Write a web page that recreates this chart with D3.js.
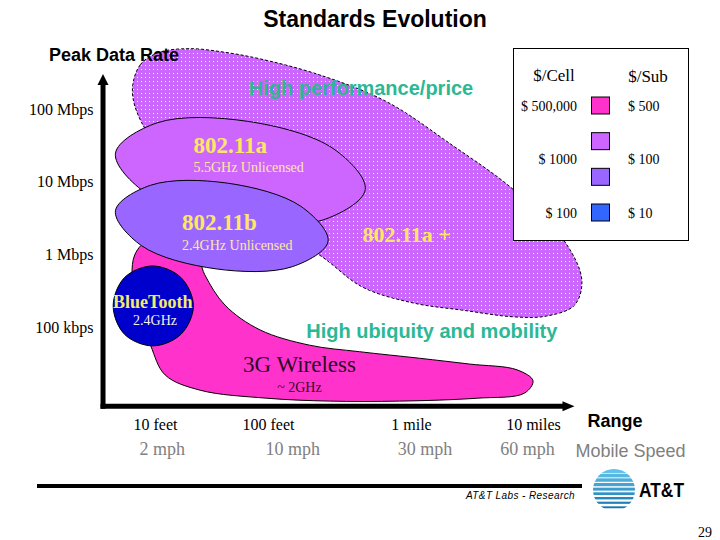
<!DOCTYPE html>
<meta charset="utf-8">
<body style="margin:0;background:#fff">
  <svg id="chart" width="720" height="540"></svg>

  <script src="https://cdnjs.cloudflare.com/ajax/libs/d3/7.8.5/d3.min.js"></script>
  <script>

    // axis ticks: y in log10(Mbps), x in range decades (10 feet .. 10 miles)
    var rateTicks = [-1, 0, 1, 2]
    var rateLabels = ['100 kbps', '1 Mbps', '10 Mbps', '100 Mbps']
    var rangeTicks = [0, 1, 2, 3]
    var rangeLabels = ['10 feet', '100 feet', '1 mile', '10 miles']
    var speedTicks = [0.06, 1.17, 2.11, 2.95]
    var speedLabels = ['2 mph', '10 mph', '30 mph', '60 mph']

    // legend: cost tiers
    var tierColors = ['#FF33CC', '#CC66FF', '#9966FF', '#3366FF']
    var costRows = [0, 1.5, 3]
    var costPerCell = ['$ 500,000', '$ 1000', '$ 100']
    var costPerSub = ['$ 500', '$ 100', '$ 10']

    // technology regions, outline points as [range, log10 rate]
    var wlanPlus = [[-0.20, 2.26], [-0.13, 2.61], [0.04, 2.78], [0.31, 2.83], [0.62, 2.78], [0.93, 2.69],
      [1.36, 2.47], [1.83, 2.10], [2.34, 1.50], [2.84, 0.89], [3.25, 0.20], [3.40, -0.35], [3.34, -0.70],
      [3.11, -0.85], [2.84, -0.86], [2.43, -0.77], [2.02, -0.67], [1.66, -0.45], [1.36, -0.01],
      [0.84, 0.54], [0.13, 1.30], [-0.13, 1.85]]
    var wireless3g = [[-0.04, 0.20], [0.35, 0.06], [0.44, -0.28], [0.62, -0.70], [0.93, -1.04], [1.29, -1.25],
      [1.64, -1.34], [2.07, -1.43], [2.48, -1.51], [2.87, -1.59], [3.00, -1.74], [2.93, -1.91], [2.54, -1.98],
      [1.92, -2.02], [1.43, -2.02], [0.99, -1.98], [0.40, -1.87], [0.09, -1.66], [-0.04, -1.25],
      [-0.18, -0.63], [-0.18, -0.01]]
    var wlan11a = [[1.68, 0.89], [1.38, 0.47], [0.69, 0.45], [-0.07, 0.83], [-0.35, 1.39], [0.02, 1.81], [0.82, 1.83], [1.46, 1.45]]
    var wlan11b = [[1.42, 0.18], [1.17, -0.17], [0.54, -0.20], [-0.12, 0.12], [-0.35, 0.60], [-0.04, 0.95], [0.64, 0.98], [1.23, 0.66]]
    var bluetooth = [[0.34, -0.71], [0.23, -1.10], [-0.02, -1.26], [-0.27, -1.10], [-0.37, -0.71], [-0.27, -0.32], [-0.02, -0.16], [0.23, -0.32]]

    var serif = '"Liberation Serif", "Times New Roman", serif'
    var sans = '"Liberation Sans", Arial, sans-serif'

    var svg = d3.select('#chart')

    var x = d3.scaleLinear().domain([0, 1, 2, 3]).range([155, 268, 411, 533])
    var y = d3.scaleLinear().domain([-1, 2]).range([327, 109])
    var legendY = d3.scaleLinear().domain([0, 3]).range([105.5, 212.5])

    var outline = d3.line()
      .x(d => x(d[0]))
      .y(d => y(d[1]))
      .curve(d3.curveCatmullRomClosed.alpha(0.5))

    // dotted fill
    var defs = svg.append('defs')
    var pat = defs.append('pattern').attr('id', 'dots')
      .attr('width', 4).attr('height', 4).attr('patternUnits', 'userSpaceOnUse')
    pat.append('rect').attr('width', 4).attr('height', 4).attr('fill', '#CC66FF')
    pat.append('rect').attr('x', 1).attr('y', 1).attr('width', 1).attr('height', 1).attr('fill', '#fff')

    // title
    svg.append('text').text('Standards Evolution')
      .attr('x', 375).attr('y', 27).attr('text-anchor', 'middle')
      .style('font-family', sans).style('font-weight', 'bold').style('font-size', '23px')

    // regions, back to front
    svg.append('path').attr('d', outline(wlanPlus))
      .attr('fill', 'url(#dots)').attr('stroke', '#000').attr('stroke-width', 1)
      .attr('stroke-dasharray', '3,2')

    svg.append('path').attr('d', outline(wireless3g))
      .attr('fill', '#FF33CC').attr('stroke', '#000').attr('stroke-width', 1)

    svg.append('path').attr('d', outline(wlan11a))
      .attr('fill', '#CC66FF').attr('stroke', '#000').attr('stroke-width', 1)

    svg.append('path').attr('d', outline(wlan11b))
      .attr('fill', '#9966FF').attr('stroke', '#000').attr('stroke-width', 1)

    svg.append('path').attr('d', outline(bluetooth))
      .attr('fill', '#0000CC').attr('stroke', '#000').attr('stroke-width', 1)

    svg.append('text').text('Peak Data Rate')
      .attr('x', 49).attr('y', 61)
      .style('font-family', sans).style('font-weight', 'bold').style('font-size', '18px')

    // region labels
    var notes = [
      { t: 'High performance/price', at: [1.65, 2.19], font: sans, size: 20, bold: true, fill: '#2DB895', anchor: 'middle' },
      { t: '802.11a', at: [0.34, 1.39], font: serif, size: 23, bold: true, fill: '#FFE766', anchor: 'start' },
      { t: '5.5GHz Unlicensed', at: [0.34, 1.13], font: serif, size: 14, bold: false, fill: '#FFE9A0', anchor: 'start' },
      { t: '802.11b', at: [0.24, 0.33], font: serif, size: 23, bold: true, fill: '#FFE766', anchor: 'start' },
      { t: '2.4GHz Unlicensed', at: [0.24, 0.06], font: serif, size: 14, bold: false, fill: '#FFE9A0', anchor: 'start' },
      { t: '802.11a +', at: [1.66, 0.17], font: serif, size: 22, bold: true, fill: '#FFE766', anchor: 'start' },
      { t: 'BlueTooth', at: [-0.02, -0.74], font: serif, size: 18, bold: true, fill: '#F5EB6B', anchor: 'middle' },
      { t: '2.4GHz', at: [0.0, -0.97], font: serif, size: 14, bold: false, fill: '#F2F2E6', anchor: 'middle' },
      { t: 'High ubiquity and mobility', at: [2.17, -1.15], font: sans, size: 20, bold: true, fill: '#2DB895', anchor: 'middle' },
      { t: '3G Wireless', at: [1.22, -1.62], font: serif, size: 23, bold: false, fill: '#2a0a2a', anchor: 'middle' },
      { t: '~ 2GHz', at: [1.22, -1.89], font: serif, size: 14, bold: false, fill: '#2a0a2a', anchor: 'middle' }
    ]
    svg.append('g').selectAll('text')
      .data(notes)
      .join('text')
      .text(d => d.t)
      .attr('x', d => x(d.at[0]))
      .attr('y', d => y(d.at[1]))
      .attr('text-anchor', d => d.anchor)
      .style('font-family', d => d.font)
      .style('font-size', d => d.size + 'px')
      .style('font-weight', d => d.bold ? 'bold' : 'normal')
      .attr('fill', d => d.fill)

    // legend box
    var lg = svg.append('g')
    lg.append('rect').attr('x', 513.5).attr('y', 48.5).attr('width', 175).attr('height', 192)
      .attr('fill', '#fff').attr('stroke', '#000').attr('stroke-width', 1)
    lg.append('text').text('$/Cell').attr('x', 554).attr('y', 81).attr('text-anchor', 'middle')
      .style('font-family', serif).style('font-size', '17px')
    lg.append('text').text('$/Sub').attr('x', 648).attr('y', 82).attr('text-anchor', 'middle')
      .style('font-family', serif).style('font-size', '17px')
    lg.selectAll('rect.tier')
      .data(tierColors)
      .join('rect').attr('class', 'tier')
      .attr('x', 591.5).attr('y', (d, i) => legendY(i) - 8.5)
      .attr('width', 18).attr('height', 17)
      .attr('fill', d => d).attr('stroke', '#000').attr('stroke-width', 1)
    lg.selectAll('text.cell')
      .data(costPerCell)
      .join('text').attr('class', 'cell')
      .text(d => d)
      .attr('x', 577).attr('y', (d, i) => legendY(costRows[i]) + 5)
      .attr('text-anchor', 'end')
      .style('font-family', serif).style('font-size', '14px')
    lg.selectAll('text.sub')
      .data(costPerSub)
      .join('text').attr('class', 'sub')
      .text(d => d)
      .attr('x', 628).attr('y', (d, i) => legendY(costRows[i]) + 5)
      .style('font-family', serif).style('font-size', '14px')

    // axes
    var x0 = x(-0.46), y0 = y(-2.09), xTip = x(3.34), yTip = y(2.48)
    svg.append('line').attr('x1', x0).attr('y1', y0 + 2.5).attr('x2', x0).attr('y2', yTip + 8)
      .attr('stroke', '#000').attr('stroke-width', 5)
    svg.append('line').attr('x1', x0 - 2.5).attr('y1', y0).attr('x2', xTip - 8).attr('y2', y0)
      .attr('stroke', '#000').attr('stroke-width', 5)
    svg.append('path')
      .attr('d', `M${x0},${yTip} L${x0 - 5.5},${yTip + 11} L${x0 + 5.5},${yTip + 11} Z`)
    svg.append('path')
      .attr('d', `M${xTip},${y0} L${xTip - 12},${y0 - 5} L${xTip - 12},${y0 + 5} Z`)

    var yAxis = svg.append('g').attr('transform', `translate(${x0 - 2.5},0)`)
      .call(d3.axisLeft(y).tickValues(rateTicks).tickFormat((d, i) => rateLabels[i]).tickSize(0).tickPadding(7))
    var xAxis = svg.append('g').attr('transform', `translate(0,${y0})`)
      .call(d3.axisBottom(x).tickValues(rangeTicks).tickFormat((d, i) => rangeLabels[i]).tickSize(0).tickPadding(12))
    var sAxis = svg.append('g').attr('transform', `translate(0,${y0})`)
      .call(d3.axisBottom(x).tickValues(speedTicks).tickFormat((d, i) => speedLabels[i]).tickSize(0).tickPadding(36))

    ;[yAxis, xAxis, sAxis].forEach(a => {
      a.select('.domain').remove()
      a.attr('font-family', serif)
    })
    yAxis.attr('font-size', 16).selectAll('text').attr('fill', '#000')
    xAxis.attr('font-size', 16).selectAll('text').attr('fill', '#000')
    sAxis.attr('font-size', 18).selectAll('text').attr('fill', '#808080')

    svg.append('text').text('Range').attr('x', xTip + 13).attr('y', 427)
      .style('font-family', sans).style('font-weight', 'bold').style('font-size', '18px')
    svg.append('text').text('Mobile Speed').attr('x', xTip + 1).attr('y', 457)
      .attr('fill', '#808080')
      .style('font-family', sans).style('font-size', '18px')

    // footer
    svg.append('line').attr('x1', 37).attr('y1', 486).attr('x2', 582).attr('y2', 486)
      .attr('stroke', '#000').attr('stroke-width', 4)
    svg.append('text').text('AT&T Labs - Research').attr('x', 575).attr('y', 499)
      .attr('text-anchor', 'end').style('letter-spacing', '0.4px')
      .style('font-family', sans).style('font-style', 'italic').style('font-size', '10px')

    // logo globe
    defs.append('clipPath').attr('id', 'globe')
      .append('circle').attr('cx', 614).attr('cy', 490).attr('r', 21)
    var globe = svg.append('g').attr('clip-path', 'url(#globe)')
    globe.append('circle').attr('cx', 614).attr('cy', 490).attr('r', 21).attr('fill', '#fff')
    d3.range(9).forEach(i => {
      var band = 42 / 9
      var h = band * (0.85 - i * 0.055)
      globe.append('rect').attr('x', 590).attr('y', 469 + i * band)
        .attr('width', 48).attr('height', h)
        .attr('fill', d3.interpolateRgb('#5FC0EA', '#1677B0')(i / 8))
    })
    svg.append('text').text('AT&T').attr('x', 639).attr('y', 497)
      .attr('textLength', 45).attr('lengthAdjust', 'spacingAndGlyphs')
      .style('font-family', sans).style('font-weight', 'bold').style('font-size', '21px')

    svg.append('text').text('29').attr('x', 712).attr('y', 537).attr('text-anchor', 'end')
      .style('font-family', serif).style('font-size', '14px')

  </script>
